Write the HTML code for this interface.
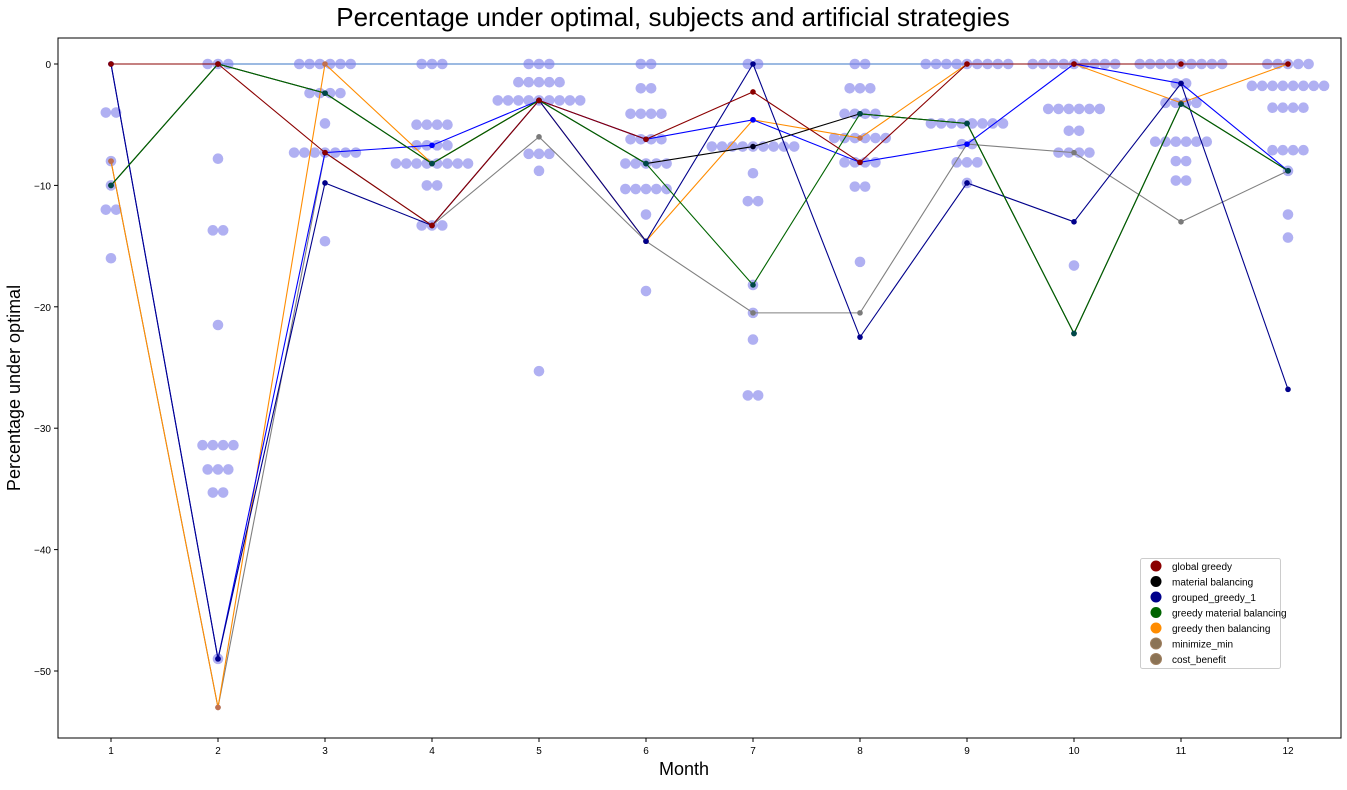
<!DOCTYPE html>
<html><head><meta charset="utf-8"><style>
body{margin:0;background:#fff;font-family:"Liberation Sans",sans-serif}
svg text{font-family:"Liberation Sans",sans-serif}
</style></head><body>
<svg id="c" width="1347" height="785"></svg>
<script>
const months=[1,2,3,4,5,6,7,8,9,10,11,12];
const yTicks=[0,-10,-20,-30,-40,-50];
const seriesNames=["global greedy","material balancing","grouped_greedy_1","greedy material balancing","greedy then balancing","minimize_min","cost_benefit"];
const globalGreedy=[0,0,-7.3,-13.3,-3,-6.2,-2.3,-8.1,0,0,0,0];
const materialBalancing=[-10,0,-2.4,-8.2,-3,-8.2,-6.8,-4.1,-4.9,-22.2,-3.3,-8.8];
const groupedGreedy1=[0,-49,-9.8,-13.3,-3,-14.6,0,-22.5,-9.8,-13,-1.6,-26.8];
const greedyMaterialBalancing=[-10,0,-2.4,-8.2,-3,-8.2,-18.2,-4.1,-4.9,-22.2,-3.3,-8.8];
const greedyThenBalancing=[-8,-53,0,-8.2,-3,-14.6,-4.6,-6.1,0,0,-3.2,0];
const minimizeMin=[-8,-53,-7.3,-13.3,-6,-14.6,-20.5,-20.5,-6.6,-7.3,-13,-8.8];
const costBenefit=[0,-49,-7.3,-6.7,-3,-6.2,-4.6,-8.1,-6.6,0,-1.6,-8.8];
// subject values per month: [value, count]
const subjects=[
[[-4,2],[-8,1],[-10,1],[-12,2],[-16,1]],
[[0,3],[-7.8,1],[-13.7,2],[-21.5,1],[-31.4,4],[-33.4,3],[-35.3,2],[-49,1]],
[[0,6],[-2.4,4],[-4.9,1],[-7.3,7],[-14.6,1]],
[[0,3],[-5,4],[-6.7,4],[-8.2,8],[-10,2],[-13.3,3]],
[[0,3],[-1.5,5],[-3,9],[-7.4,3],[-8.8,1],[-25.3,1]],
[[0,2],[-2,2],[-4.1,4],[-6.2,4],[-8.2,5],[-10.3,5],[-12.4,1],[-18.7,1]],
[[0,2],[-6.8,9],[-9,1],[-11.3,2],[-18.2,1],[-20.5,1],[-22.7,1],[-27.3,2]],
[[0,2],[-2,3],[-4.1,4],[-6.1,6],[-8.1,4],[-10.1,2],[-16.3,1]],
[[0,9],[-4.9,8],[-6.6,2],[-8.1,3],[-9.8,1]],
[[0,9],[-3.7,6],[-5.5,2],[-7.3,4],[-16.6,1]],
[[0,9],[-1.6,2],[-3.2,4],[-6.4,6],[-8,2],[-9.6,2]],
[[0,5],[-1.8,8],[-3.6,4],[-7.1,4],[-8.8,1],[-12.4,1],[-14.3,1]]];

const L=58,R=1341,T=38,B=738;
const X=m=>111+(m-1)*107;
const Y=v=>64-v*12.14;
const NS="http://www.w3.org/2000/svg";
const svg=document.getElementById('c');
function mk(t,a,p){const e=document.createElementNS(NS,t);for(const k in a)e.setAttribute(k,a[k]);(p||svg).appendChild(e);return e;}

let t=mk('text',{x:673,y:26,'font-size':26,'text-anchor':'middle',fill:'#000'});t.textContent="Percentage under optimal, subjects and artificial strategies";


t=mk('text',{x:684,y:775,'font-size':18,'text-anchor':'middle'});t.textContent="Month";


t=mk('text',{x:20,y:388,'font-size':18,'text-anchor':'middle',transform:'rotate(-90 20 388)'});t.textContent="Percentage under optimal";



months.forEach(m=>{mk('line',{x1:X(m),x2:X(m),y1:B,y2:B+4,stroke:'#000'});
 const tt=mk('text',{x:X(m),y:B+16,'font-size':10,'text-anchor':'middle'});tt.textContent=m;
 
 });
yTicks.forEach(v=>{mk('line',{x1:L-4,x2:L,y1:Y(v),y2:Y(v),stroke:'#000'});
 const tt=mk('text',{x:L-7,y:Y(v)+4,'font-size':10,'text-anchor':'end'});tt.textContent=v===0?"0":"\u2212"+(-v);
 
 });

mk('line',{x1:X(1),x2:X(12),y1:Y(0),y2:Y(0),stroke:'#3a75c4','stroke-width':1});

const sg=mk('g',{});


subjects.forEach((arr,i)=>{arr.forEach(([v,n])=>{for(let k=0;k<n;k++){
 const c=mk('circle',{cx:X(months[i])+(k-(n-1)/2)*10.3,cy:Y(v),r:5.3,fill:'#7b7bea','fill-opacity':0.6},sg);
 
 }});});

const series=[
[minimizeMin,'#808080','#7a7a7a'],
[greedyThenBalancing,'#ff8c00','#c07050'],
[costBenefit,'#0000ff','#0000ff'],
[groupedGreedy1,'#00008b','#00008b'],
[materialBalancing,'#000000','#000020'],
[greedyMaterialBalancing,'#006400','#004848'],
[globalGreedy,'#8b0000','#8b0000']];
series.forEach(([d,col,dot],si)=>{
 const g=mk('g',{});
 
 
 mk('polyline',{points:d.map((v,i)=>X(months[i])+','+Y(v)).join(' '),fill:'none',stroke:col,'stroke-width':1.1},g);
 d.forEach((v,i)=>{const c=mk('circle',{cx:X(months[i]),cy:Y(v),r:2.8,fill:dot},g);
  
  });
});

mk('rect',{x:L,y:T,width:R-L,height:B-T,fill:'none',stroke:'#000','stroke-width':1});

const lg=mk('g',{});


mk('rect',{x:1140.5,y:558.5,width:140,height:110,fill:'#fff',stroke:'#ccc',rx:2},lg);
const lc=['#8b0000','#000000','#00008b','#006400','#ff8c00','#8b7355','#8b7355'];
seriesNames.forEach((n,i)=>{const yy=566+i*15.5;
 mk('circle',{cx:1156,cy:yy,r:5.5,fill:lc[i],stroke:i>4?'#a08060':'none'},lg);
 const tt=mk('text',{x:1172,y:yy+4,'font-size':10},lg);tt.textContent=n;
 
 });
</script>
</body></html>
